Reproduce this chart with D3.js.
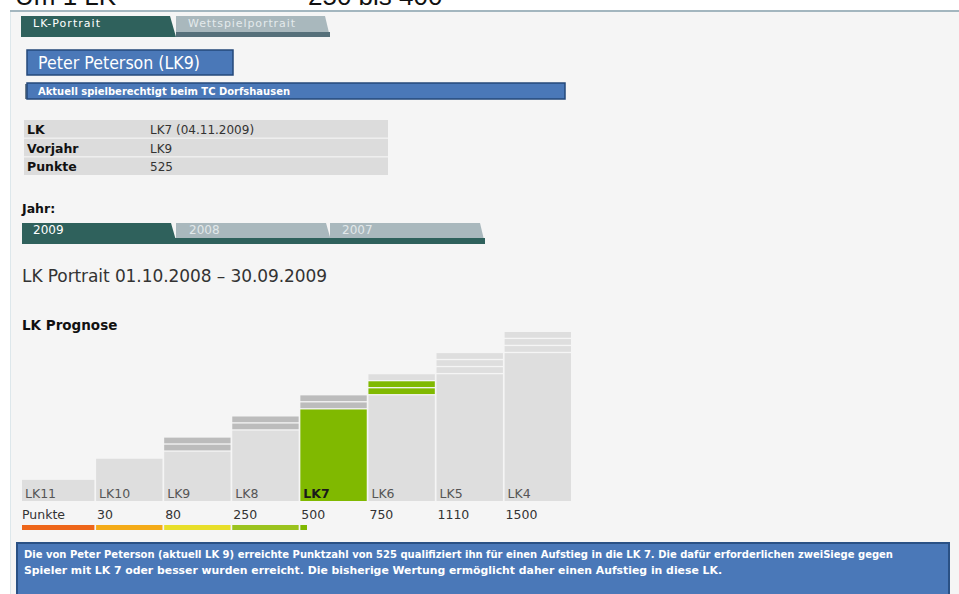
<!DOCTYPE html>
<html lang="de">
<head>
<meta charset="utf-8">
<title>LK Prognose</title>
<script src="https://cdnjs.cloudflare.com/ajax/libs/d3/7.8.5/d3.min.js"></script>
<style>
  html, body { margin: 0; padding: 0; background: #fff; }
  svg { display: block; }
  .ui { font-family: "DejaVu Sans", Verdana, sans-serif; }
</style>
</head>
<body>
<div id="chart"></div>
<script>
// LK categories and the points needed for each
const categories = ["LK11", "LK10", "LK9", "LK8", "LK7", "LK6", "LK5", "LK4"];
const levels = [1, 2, 3, 4, 5, 6, 7, 8];
const thresholds = [0, 30, 80, 250, 500, 750, 1110, 1500];
const pointLabels = ["Punkte", "30", "80", "250", "500", "750", "1110", "1500"];
// required wins per LK, top stripe first: done / won / open
const winStripes = [
  [], [],
  ["done", "done"], ["done", "done"], ["done", "done"],
  ["open", "won", "won"],
  ["open", "open", "open"], ["open", "open", "open"]
];
const rangeColors = ["#ee661a", "#f4ab18", "#e8df2a", "#9bc31e", "#7fb800", "#7fb800", "#7fb800"];
const playerPoints = 525;
const currentLK = "LK7";

const infoRows = [["LK", "LK7 (04.11.2009)"], ["Vorjahr", "LK9"], ["Punkte", "525"]];
const years = ["2009", "2008", "2007"];

const W = 959, H = 594;
const svg = d3.select("#chart").append("svg").attr("width", W).attr("height", H);

// header text, cut off at the top like the screenshot
svg.append("text").attr("x", 15).attr("y", 5)
  .style("font-family", "Liberation Sans, Arial").style("font-size", "26px").attr("fill", "#111")
  .text("Um 1 LK");
svg.append("text").attr("x", 308).attr("y", 5)
  .style("font-family", "Liberation Sans, Arial").style("font-size", "26px").attr("fill", "#111")
  .text("250 bis 400");

// panel
svg.append("rect").attr("x", 10).attr("y", 12).attr("width", W - 10).attr("height", H - 12).attr("fill", "#f5f5f5");
svg.append("rect").attr("x", 10).attr("y", 12).attr("width", 1).attr("height", H - 12).attr("fill", "#dde7eb");
svg.append("rect").attr("x", 10).attr("y", 10).attr("width", W - 10).attr("height", 2).attr("fill", "#a3b6bf");

// top tabs
svg.append("path").attr("d", "M176,16 L325,16 L330,37 L176,37 Z").attr("fill", "#a9b8bd");
svg.append("rect").attr("x", 176).attr("y", 32).attr("width", 154).attr("height", 5).attr("fill", "#56707a");
svg.append("path").attr("d", "M21,16 L170,16 L176,37 L21,37 Z").attr("fill", "#2f615c");
svg.append("text").attr("class", "ui").attr("x", 33).attr("y", 27).style("font-size", "11px").attr("fill", "#fff")
  .attr("textLength", 67).text("LK-Portrait");
svg.append("text").attr("class", "ui").attr("x", 188).attr("y", 27).style("font-size", "11px").attr("fill", "#e4eaec")
  .attr("textLength", 107).text("Wettspielportrait");

// name box
svg.append("rect").attr("x", 27).attr("y", 50).attr("width", 206).attr("height", 25)
  .attr("fill", "#4a78b8").attr("stroke", "#24487a").attr("stroke-width", 1.5);
svg.append("text").attr("class", "ui").attr("x", 38).attr("y", 69).style("font-size", "17px")
  .attr("fill", "#fff").attr("textLength", 162).attr("lengthAdjust", "spacingAndGlyphs").text("Peter Peterson (LK9)");

svg.append("rect").attr("x", 25).attr("y", 84).attr("width", 3).attr("height", 15).attr("fill", "#6f7f8c");
svg.append("rect").attr("x", 27).attr("y", 83).attr("width", 538).attr("height", 16)
  .attr("fill", "#4a78b8").attr("stroke", "#24487a").attr("stroke-width", 1.5);
svg.append("text").attr("class", "ui").attr("x", 38).attr("y", 95).style("font-size", "10.5px").style("font-weight", "bold")
  .attr("fill", "#fff").attr("textLength", 252).attr("lengthAdjust", "spacingAndGlyphs")
  .text("Aktuell spielberechtigt beim  TC Dorfshausen");

// info table
const rowY = d3.scaleBand().domain(infoRows.map(r => r[0])).range([120, 175]).paddingInner(0.06);
const rows = svg.append("g").selectAll("g").data(infoRows).join("g");
rows.append("rect").attr("x", 24).attr("y", d => rowY(d[0])).attr("width", 364).attr("height", rowY.bandwidth()).attr("fill", "#dcdcdc");
rows.append("text").attr("class", "ui").attr("x", 27).attr("y", d => rowY(d[0]) + 14)
  .style("font-size", "12.5px").style("font-weight", "bold").attr("fill", "#111").text(d => d[0]);
rows.append("text").attr("class", "ui").attr("x", 150).attr("y", d => rowY(d[0]) + 14)
  .style("font-size", "12px").attr("fill", "#333").text(d => d[1]);

// year tabs
svg.append("text").attr("class", "ui").attr("x", 22).attr("y", 213).style("font-size", "12.5px").style("font-weight", "bold")
  .attr("fill", "#111").text("Jahr:");
svg.append("path").attr("d", "M330,223 L480,223 L485,244 L330,244 Z").attr("fill", "#a9b8bd");
svg.append("path").attr("d", "M176,223 L326,223 L332,244 L176,244 Z").attr("fill", "#a9b8bd");
svg.append("path").attr("d", "M22,223 L171,223 L177,244 L22,244 Z").attr("fill", "#2f615c");
svg.append("rect").attr("x", 22).attr("y", 238).attr("width", 463).attr("height", 6).attr("fill", "#2f615c");
const yearX = [33, 189, 342];
years.forEach((y, i) => {
  svg.append("text").attr("class", "ui").attr("x", yearX[i]).attr("y", 234).style("font-size", "12px")
    .attr("fill", i === 0 ? "#fff" : "#e2e8ea").text(y);
});

svg.append("text").attr("class", "ui").attr("x", 22).attr("y", 282).style("font-size", "17px")
  .attr("fill", "#333").attr("textLength", 305).text("LK Portrait 01.10.2008 \u2013 30.09.2009");
svg.append("text").attr("class", "ui").attr("x", 22).attr("y", 330).style("font-size", "13.5px").style("font-weight", "bold")
  .attr("fill", "#111").text("LK Prognose");

// chart
const left = 22;
const x = d3.scaleBand().domain(categories).range([28, 571]).paddingInner(0.025);
const y = d3.scaleLinear().domain([0, 8]).range([501, 332]);
const bx = (d, i) => i === 0 ? left : x(d);
const bw = (d, i) => i === 0 ? x(d) + x.bandwidth() - left : x.bandwidth();

const bars = svg.append("g").selectAll("g").data(categories).join("g");
bars.append("rect")
  .attr("x", bx).attr("width", bw)
  .attr("y", (d, i) => y(levels[i] - winStripes[i].length / 3))
  .attr("height", (d, i) => y(0) - y(levels[i] - winStripes[i].length / 3))
  .attr("fill", d => d === currentLK ? "#80b900" : "#dedede");

const stripeColor = { done: "#bcbcbc", won: "#80b900", open: "#dedede" };
bars.each(function (d, i) {
  d3.select(this).selectAll("rect.stripe").data(winStripes[i]).join("rect")
    .attr("class", "stripe")
    .attr("x", bx(d, i)).attr("width", bw(d, i))
    .attr("y", (s, k) => y(levels[i] - k / 3))
    .attr("height", (s, k) => y(levels[i] - (k + 1) / 3) - y(levels[i] - k / 3) - 1.3)
    .attr("fill", s => stripeColor[s]);
});

bars.append("text").attr("class", "ui")
  .attr("x", (d, i) => bx(d, i) + 3).attr("y", 498)
  .style("font-size", "12.5px").style("font-weight", d => d === currentLK ? "bold" : "normal")
  .attr("fill", d => d === currentLK ? "#1a1a1a" : "#555").text(d => d);

bars.append("text").attr("class", "ui")
  .attr("x", (d, i) => i === 0 ? left : x(d) + 1).attr("y", 519)
  .style("font-size", "12.5px").attr("fill", "#333").text((d, i) => pointLabels[i]);

// points progress under each range
bars.filter((d, i) => i < categories.length - 1).append("rect")
  .attr("x", bx).attr("y", 525).attr("height", 5)
  .attr("width", (d, i) => {
    const f = d3.scaleLinear().domain([thresholds[i], thresholds[i + 1]]).range([0, bw(d, i)]).clamp(true);
    return f(playerPoints);
  })
  .attr("fill", (d, i) => rangeColors[i]);

// info box
svg.append("rect").attr("x", 17).attr("y", 543).attr("width", 932).attr("height", 70)
  .attr("fill", "#4a78b8").attr("stroke", "#2a5185").attr("stroke-width", 2);
const msg = [
  ["Die von Peter Peterson  (aktuell LK 9) erreichte Punktzahl von  525 qualifiziert ihn f\u00fcr einen Aufstieg in die LK 7. Die daf\u00fcr erforderlichen zweiSiege gegen", 869],
  ["Spieler mit LK 7 oder besser wurden erreicht.  Die bisherige Wertung erm\u00f6glicht daher einen Aufstieg in diese LK.", 698]
];
msg.forEach((m, i) => {
  svg.append("text").attr("class", "ui").attr("x", 24).attr("y", 558 + i * 16)
    .style("font-size", "10.5px").style("font-weight", "bold").attr("fill", "#fff")
    .attr("textLength", m[1]).attr("lengthAdjust", "spacingAndGlyphs").text(m[0]);
});
</script>
</body>
</html>
